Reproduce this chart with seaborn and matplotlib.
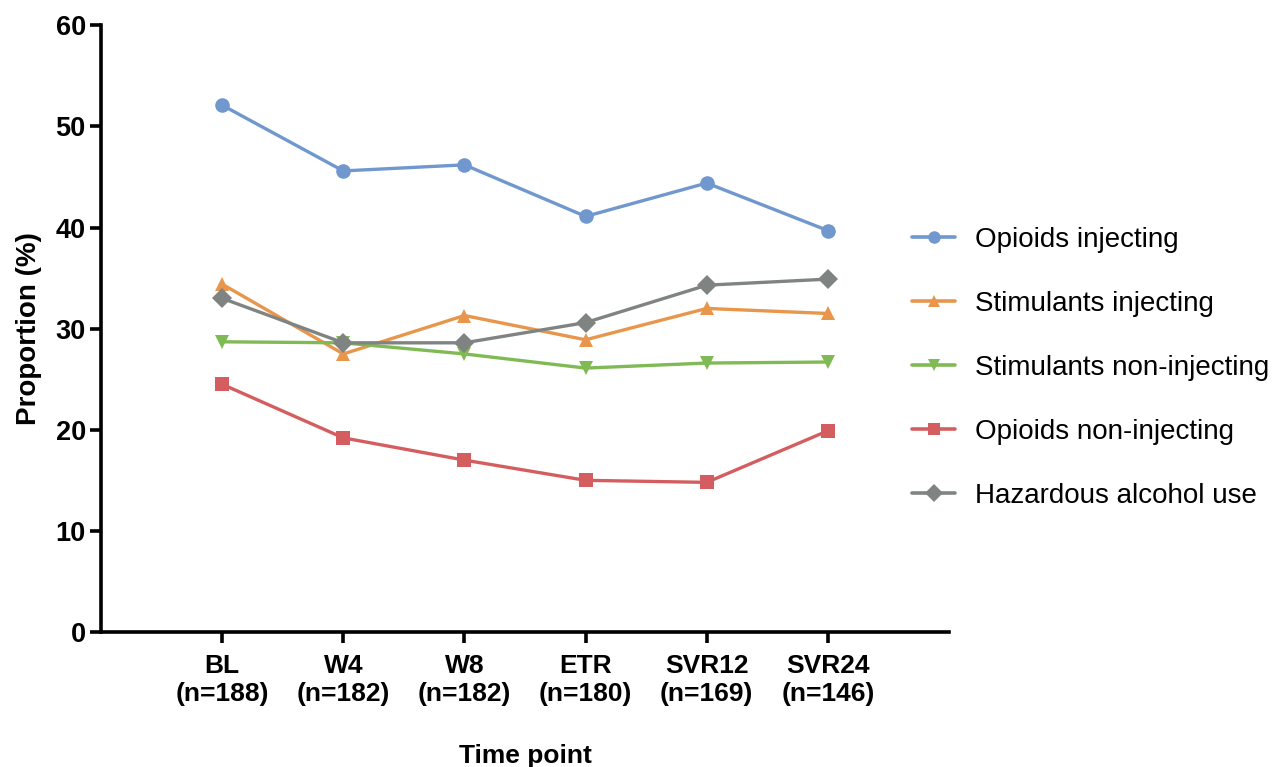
import matplotlib
matplotlib.use('Agg')
import matplotlib.pyplot as plt
import pandas as pd
import seaborn as sns

time_points = ['BL\n(n=188)', 'W4\n(n=182)', 'W8\n(n=182)', 'ETR\n(n=180)',
               'SVR12\n(n=169)', 'SVR24\n(n=146)']

opioids_injecting = [52.1, 45.6, 46.2, 41.1, 44.4, 39.7]
stimulants_injecting = [34.4, 27.5, 31.3, 28.9, 32.0, 31.5]
stimulants_non_injecting = [28.7, 28.6, 27.5, 26.1, 26.6, 26.7]
opioids_non_injecting = [24.5, 19.2, 17.0, 15.0, 14.8, 19.9]
hazardous_alcohol = [33.0, 28.6, 28.6, 30.6, 34.3, 34.9]

series_names = ['Opioids injecting', 'Stimulants injecting',
                'Stimulants non-injecting', 'Opioids non-injecting',
                'Hazardous alcohol use']
series_values = [opioids_injecting, stimulants_injecting,
                 stimulants_non_injecting, opioids_non_injecting,
                 hazardous_alcohol]

colors = ['#7097CE', '#E8964B', '#80BA55', '#D45E5F', '#7F8482']
markers = ['o', '^', 'v', 's', 'D']

rows = []
for name, vals in zip(series_names, series_values):
    for tp, v in zip(time_points, vals):
        rows.append({'time': tp, 'value': v, 'series': name})
df = pd.DataFrame(rows)

sns.set_style('ticks')
plt.rcParams['font.family'] = ['Liberation Sans', 'DejaVu Sans']
plt.rcParams['text.color'] = 'black'
plt.rcParams['axes.labelcolor'] = 'black'
plt.rcParams['xtick.color'] = 'black'
plt.rcParams['ytick.color'] = 'black'
plt.rcParams['axes.edgecolor'] = 'black'

fig = plt.figure(figsize=(12.79, 7.67), dpi=100)
ax = fig.add_axes([0.079, 0.176, 0.663, 0.791])

sns.lineplot(data=df, x='time', y='value', hue='series', style='series',
             hue_order=series_names, style_order=series_names,
             palette=colors, markers=markers, dashes=False,
             markersize=10.5, linewidth=2.4, markeredgewidth=0, ax=ax,
             sort=False)

ax.set_xlim(-1, 6)
ax.set_ylim(0, 60)
ax.set_yticks([0, 10, 20, 30, 40, 50, 60])
sns.despine(ax=ax)
for sp in ['left', 'bottom']:
    ax.spines[sp].set_linewidth(2.6)
ax.tick_params(axis='both', width=2.6, length=8)
ax.tick_params(axis='y', labelsize=19.5, pad=3)
ax.tick_params(axis='x', labelsize=19, pad=8)
for lab in ax.get_xticklabels() + ax.get_yticklabels():
    lab.set_fontweight('bold')
for lab in ax.get_xticklabels():
    lab.set_linespacing(1.2)

ax.set_xlabel('Time point', fontsize=19, fontweight='bold', labelpad=27)
ax.set_ylabel('Proportion (%)', fontsize=20, fontweight='bold', labelpad=10)

leg = ax.legend(loc='center left', bbox_to_anchor=(912 / 1279, 1 - 368 / 767),
                bbox_transform=fig.transFigure, frameon=False,
                fontsize=20, labelspacing=1.37, handlelength=1.55,
                handletextpad=0.72, borderaxespad=0, borderpad=0)
for h in leg.legend_handles:
    h.set_markersize(9)
    h.set_linewidth(2.6)

fig.savefig('out.png', dpi=100)
